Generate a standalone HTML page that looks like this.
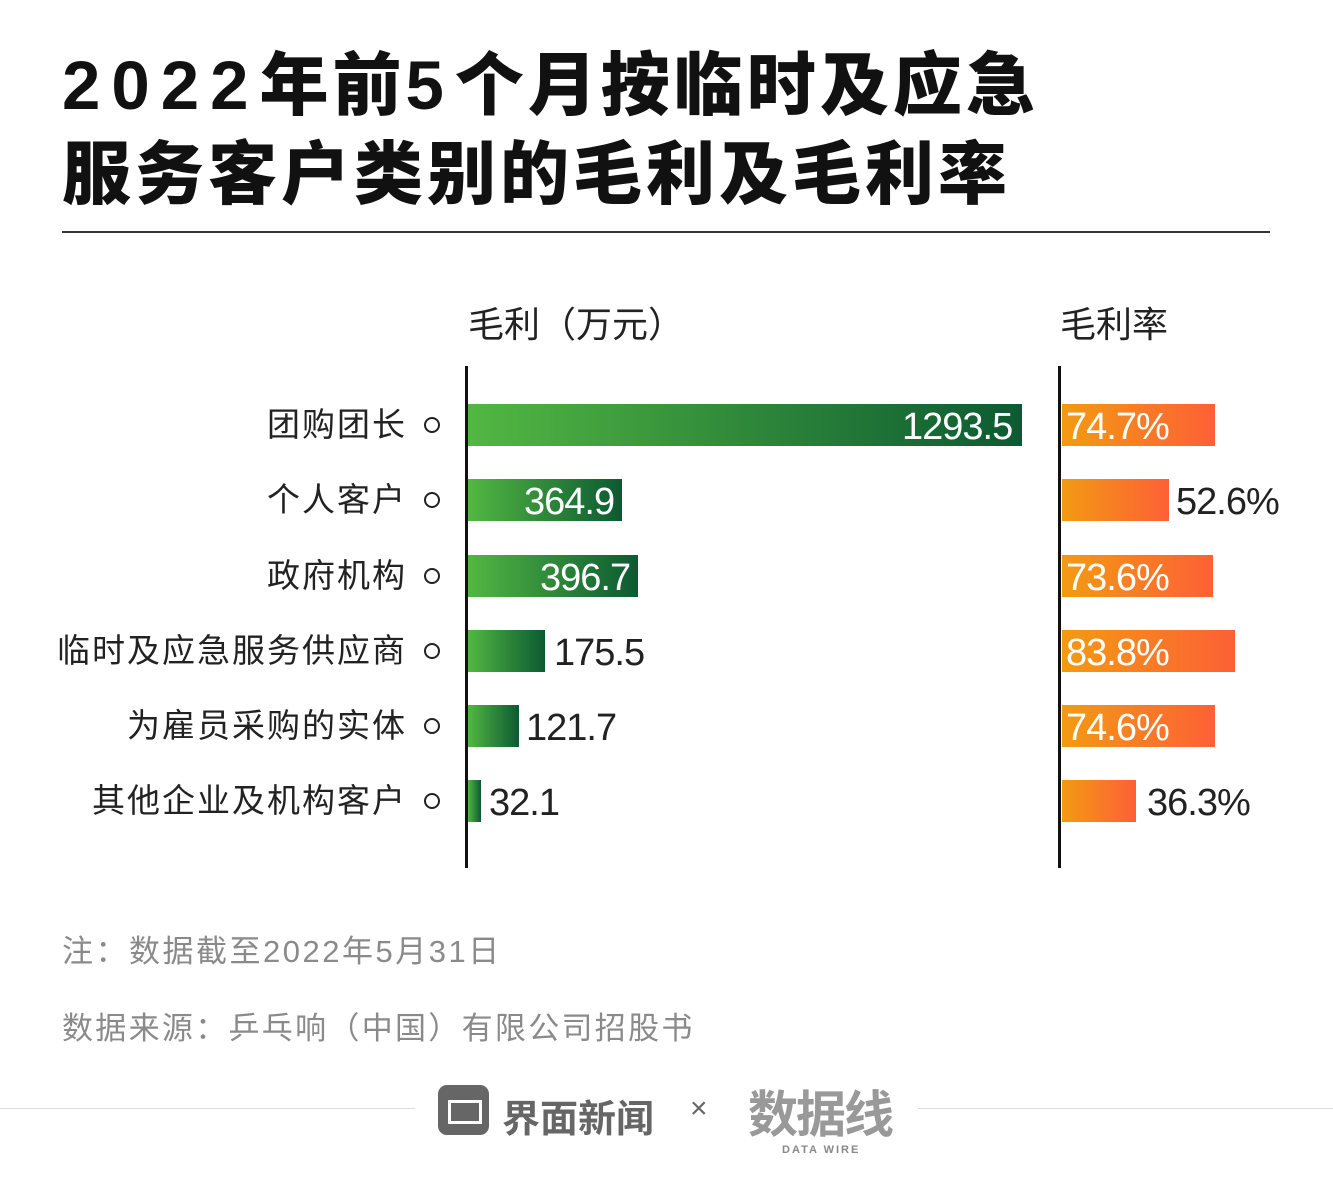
<!DOCTYPE html>
<html><head><meta charset="utf-8"><style>
body{margin:0;width:1333px;height:1189px;background:#fff;position:relative;overflow:hidden;font-family:"Liberation Sans","Noto Sans CJK SC",sans-serif}
.a{position:absolute;white-space:nowrap}
.t{left:62px;font-size:69px;font-weight:900;color:#111;letter-spacing:4px;line-height:1}
.t span{letter-spacing:11px}
.lab{right:926px;font-size:33px;color:#222;line-height:42px;letter-spacing:2px}
.c{left:424px;width:12px;height:12px;border:2.5px solid #222;border-radius:50%}
.g{left:468px;height:42px;background:linear-gradient(90deg,#52b742,#0c5a32)}
.o{left:1062px;height:42px;background:linear-gradient(90deg,#f39a12,#fd6036)}
.v{font-size:38px;font-weight:300;line-height:42px;letter-spacing:-1px}
.w{color:#fff}.k{color:#222}
</style></head><body>
<div class="a t" style="top:51px"><span>2022</span>年前<span>5</span>个月按临时及应急</div>
<div class="a t" style="top:140px">服务客户类别的毛利及毛利率</div>
<div class="a" style="left:62px;top:231px;width:1208px;height:1.5px;background:#333"></div>
<div class="a" style="left:468px;top:296px;font-size:36px;color:#222">毛利（万元）</div>
<div class="a" style="left:1060px;top:296px;font-size:36px;color:#222">毛利率</div>
<div class="a" style="left:465px;top:366px;width:3px;height:502px;background:#111"></div>
<div class="a" style="left:1058px;top:366px;width:3px;height:502px;background:#111"></div>

<div class="a lab" style="top:404px">团购团长</div><div class="a c" style="top:417px"></div>
<div class="a g" style="top:404px;width:554px"></div><div class="a v w" style="top:406px;left:902px">1293.5</div>
<div class="a o" style="top:404px;width:153px"></div><div class="a v w" style="top:406px;left:1066px">74.7%</div>

<div class="a lab" style="top:479px">个人客户</div><div class="a c" style="top:492px"></div>
<div class="a g" style="top:479px;width:154px"></div><div class="a v w" style="top:481px;left:524px">364.9</div>
<div class="a o" style="top:479px;width:107px"></div><div class="a v k" style="top:481px;left:1176px">52.6%</div>

<div class="a lab" style="top:555px">政府机构</div><div class="a c" style="top:568px"></div>
<div class="a g" style="top:555px;width:170px"></div><div class="a v w" style="top:557px;left:540px">396.7</div>
<div class="a o" style="top:555px;width:151px"></div><div class="a v w" style="top:557px;left:1066px">73.6%</div>

<div class="a lab" style="top:630px">临时及应急服务供应商</div><div class="a c" style="top:643px"></div>
<div class="a g" style="top:630px;width:77px"></div><div class="a v k" style="top:632px;left:554px">175.5</div>
<div class="a o" style="top:630px;width:173px"></div><div class="a v w" style="top:632px;left:1066px">83.8%</div>

<div class="a lab" style="top:705px">为雇员采购的实体</div><div class="a c" style="top:718px"></div>
<div class="a g" style="top:705px;width:51px"></div><div class="a v k" style="top:707px;left:526px">121.7</div>
<div class="a o" style="top:705px;width:153px"></div><div class="a v w" style="top:707px;left:1066px">74.6%</div>

<div class="a lab" style="top:780px">其他企业及机构客户</div><div class="a c" style="top:793px"></div>
<div class="a g" style="top:780px;width:13px"></div><div class="a v k" style="top:782px;left:489px">32.1</div>
<div class="a o" style="top:780px;width:74px"></div><div class="a v k" style="top:782px;left:1147px">36.3%</div>

<div class="a" style="left:62px;top:926px;font-size:31px;color:#8a8a8a;letter-spacing:2.5px">注：数据截至2022年5月31日</div>
<div class="a" style="left:62px;top:1003px;font-size:31px;color:#8a8a8a;letter-spacing:2.3px">数据来源：乒乓响（中国）有限公司招股书</div>

<div class="a" style="left:0;top:1108px;width:415px;height:1px;background:#ddd"></div>
<div class="a" style="left:918px;top:1108px;width:415px;height:1px;background:#ddd"></div>
<div class="a" style="left:438px;top:1085px;width:51px;height:50px;background:#666;border-radius:9px"></div>
<div class="a" style="left:448px;top:1100px;width:28px;height:18px;border:3px solid #fff"></div>
<div class="a" style="left:502px;top:1088px;font-size:38px;font-weight:bold;color:#666">界面新闻</div>
<div class="a" style="left:690px;top:1092px;font-size:30px;color:#666">×</div>
<div class="a" style="left:748px;top:1075px;font-size:50px;font-weight:bold;color:#999;letter-spacing:-2px">数据线</div>
<div class="a" style="left:782px;top:1144px;font-size:11px;font-weight:bold;color:#888;letter-spacing:2px">DATA WIRE</div>
</body></html>
